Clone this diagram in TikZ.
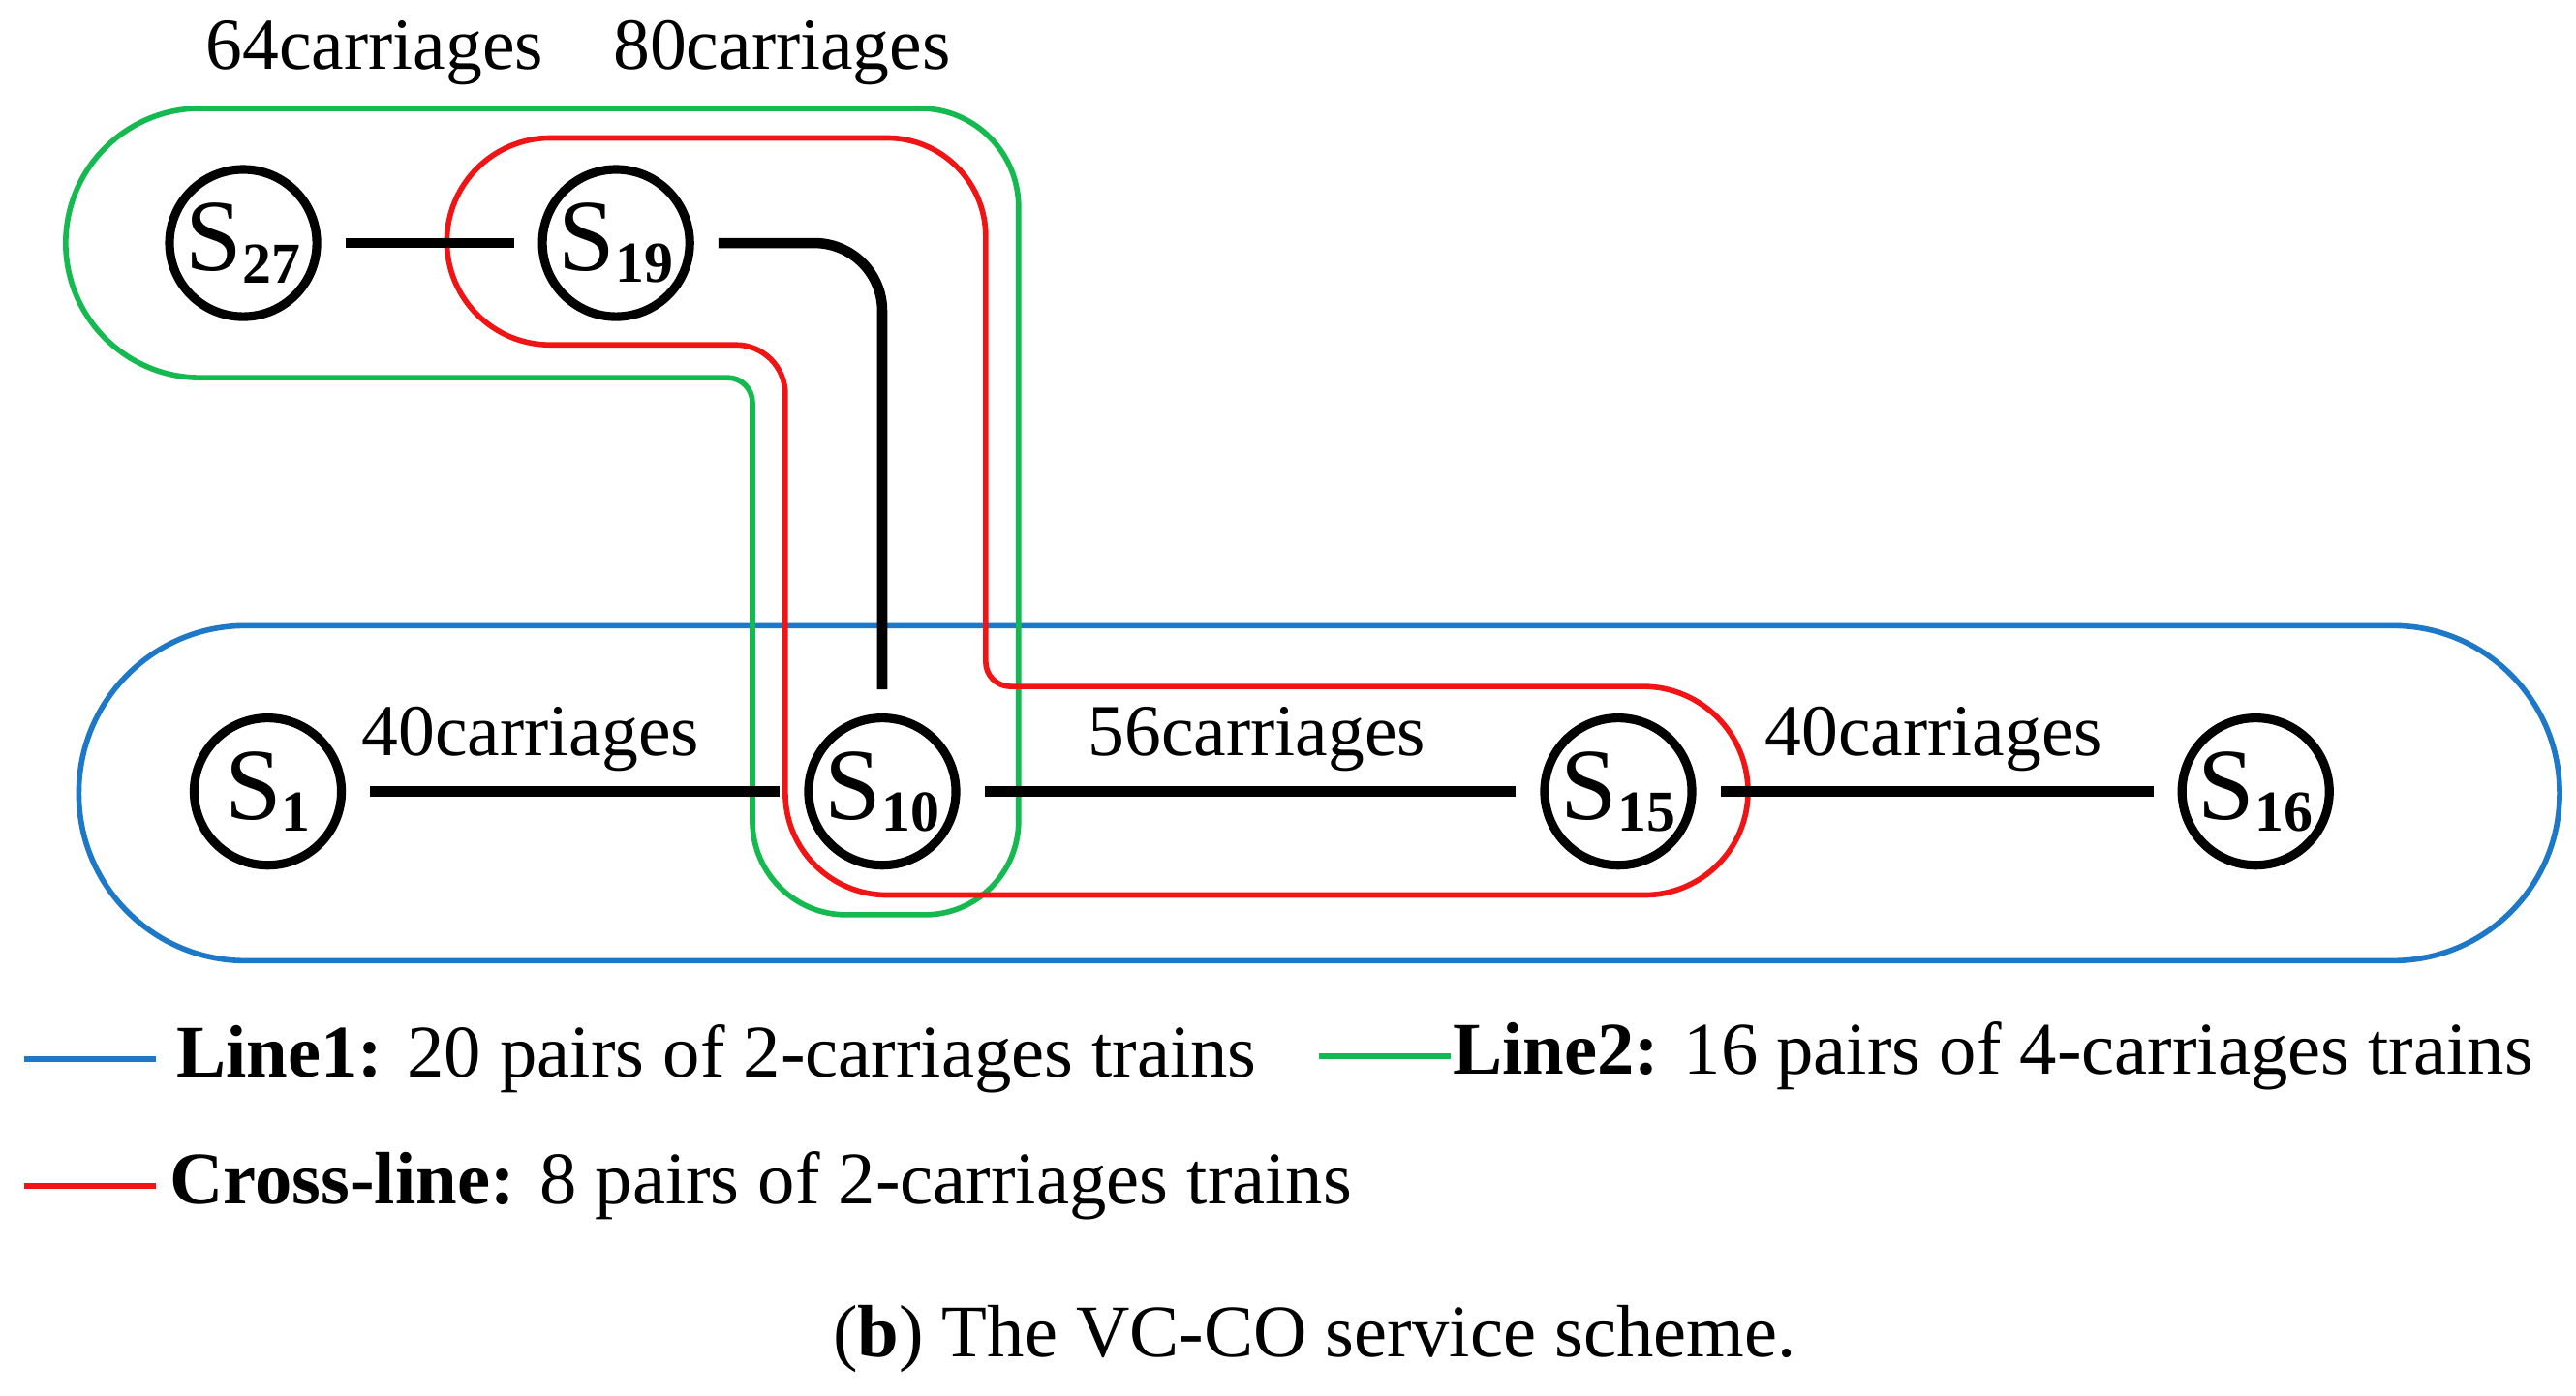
\documentclass[tikz,border=0pt]{standalone}
\usepackage{fontspec}
\setmainfont{Liberation Serif}
\newcommand{\stn}[1]{S\raisebox{-0.25ex}{\fontsize{17}{18}\selectfont\textbf{#1}}}
\begin{document}
\begin{tikzpicture}[x=0.01696cm,y=0.01696cm,
  st/.style={circle,draw=black,line width=2.6pt,minimum size=1.52cm,inner sep=0pt,font=\fontsize{30}{32}\selectfont},
  edge/.style={line width=3pt,shorten <=0.25cm,shorten >=0.25cm},
  lbl/.style={font=\fontsize{21.5}{24}\selectfont},
  leg/.style={font=\fontsize{21.8}{25}\selectfont},
  l1/.style={draw={rgb,255:red,30;green,120;blue,200},line width=1.6pt},
  l2/.style={draw={rgb,255:red,20;green,185;blue,80},line width=1.6pt},
  l3/.style={draw={rgb,255:red,240;green,20;blue,20},line width=1.6pt}]
\useasboundingbox (0,0) rectangle (1568,850);
% service lines
\draw[l1,rounded corners=1.72cm] (48,265) rectangle (1558,469);
\draw[l2] (122,784) -- (560,784) arc[start angle=90,end angle=0,radius=60] -- (620,350) arc[start angle=0,end angle=-90,radius=57] -- (515,293) arc[start angle=-90,end angle=-180,radius=57] -- (458,605) arc[start angle=0,end angle=90,radius=15] -- (122,620) arc[start angle=270,end angle=90,radius=82] -- cycle;
\draw[l3] (335,766) -- (540,766) arc[start angle=90,end angle=0,radius=60] -- (600,447) arc[start angle=180,end angle=270,radius=15] -- (1000,432) arc[start angle=90,end angle=0,radius=64] arc[start angle=0,end angle=-90,radius=63] -- (540,305) arc[start angle=-90,end angle=-180,radius=62] -- (478,610) arc[start angle=0,end angle=90,radius=30] -- (335,640) arc[start angle=270,end angle=90,radius=63] -- cycle;
% stations
\node[st] (s27) at (148,702) {\stn{27}};
\node[st] (s19) at (375,702) {\stn{19}};
\node[st] (s1) at (163,368) {\stn{1}};
\node[st] (s10) at (537,368) {\stn{10}};
\node[st] (s15) at (985,368) {\stn{15}};
\node[st] (s16) at (1373,368) {\stn{16}};
\draw[edge] (s27) -- (s19);
\draw[edge,rounded corners=0.7cm] (s19.east) -| (s10.north);
\draw[edge] (s1) -- (s10);
\draw[edge] (s10) -- (s15);
\draw[edge] (s15) -- (s16);
% labels
\node[lbl] (c1) at (228,818) {64carriages};
\node[lbl] (c2) at (476,818) {80carriages};
\node[lbl] (c3) at (323,400) {40carriages};
\node[lbl] (c4) at (765,400) {56carriages};
\node[lbl] (c5) at (1177,400) {40carriages};
% legend
\coordinate (a1) at (15,205); \coordinate (b1) at (95,205);
\draw[l1] (a1) -- (b1);
\node[leg,anchor=west] (t1) at (100,205) {\textbf{Line1:} 20 pairs of 2-carriages trains};
\coordinate (a2) at (803,207); \coordinate (b2) at (883,207);
\draw[l2] (a2) -- (b2);
\node[leg,anchor=west] (t2) at (877,207) {\textbf{Line2:} 16 pairs of 4-carriages trains};
\coordinate (a3) at (15,128); \coordinate (b3) at (95,128);
\draw[l3] (a3) -- (b3);
\node[leg,anchor=west] (t3) at (96,128) {\textbf{Cross-line:} 8 pairs of 2-carriages trains};
\node[leg] (cap) at (800,35) {(\textbf{b}) The VC-CO service scheme.};
\end{tikzpicture}
\end{document}
